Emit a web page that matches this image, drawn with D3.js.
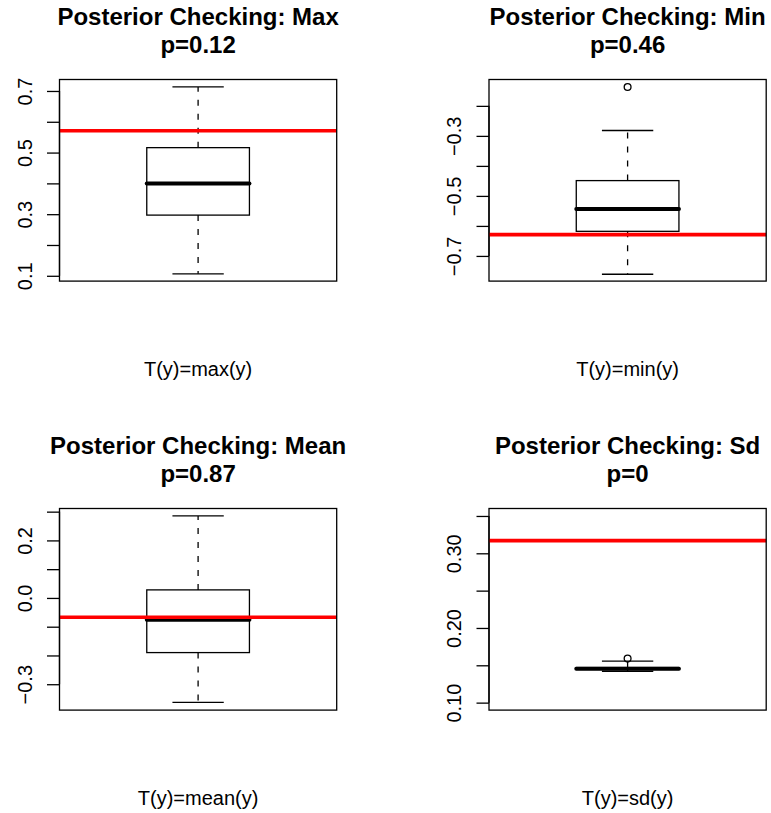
<!DOCTYPE html>
<html>
<head>
<meta charset="utf-8">
<script src="https://cdn.jsdelivr.net/npm/d3@7"></script>
<style>
  body { margin: 0; background: #fff; }
  svg { display: block; font-family: "Liberation Sans", Arial, Helvetica, sans-serif; }
</style>
</head>
<body>
<svg id="chart" width="771" height="813"></svg>
<script>
// Panel texts
const titles = ['Posterior Checking: Max', 'Posterior Checking: Min', 'Posterior Checking: Mean', 'Posterior Checking: Sd'];
const pValues = ['p=0.12', 'p=0.46', 'p=0.87', 'p=0'];
const xLabels = ['T(y)=max(y)', 'T(y)=min(y)', 'T(y)=mean(y)', 'T(y)=sd(y)'];

// Boxplot stats of the replicated statistic
const whiskerLow = [0.1065, -0.761, -0.363, 0.142];
const lowerQuartile = [0.297, -0.618, -0.19, 0.1445];
const medians = [0.400, -0.544, -0.076, 0.1455];
const upperQuartile = [0.516, -0.449, 0.028, 0.147];
const whiskerHigh = [0.713, -0.282, 0.285, 0.1555];
const outliers = [[], [-0.137], [], [0.159]];

// Observed statistic T(y), drawn as the red line
const observed = [0.571, -0.629, -0.067, 0.317];

// y limits (before R's 4% padding) and axis ticks
const yLimits = [[0.107, 0.713], [-0.759, -0.137], [-0.364, 0.285], [0.10, 0.35]];
const tickValues = [
  [0.1, 0.2, 0.3, 0.4, 0.5, 0.6, 0.7],
  [-0.7, -0.6, -0.5, -0.4, -0.3, -0.2],
  [-0.3, -0.2, -0.1, 0.0, 0.1, 0.2, 0.3],
  [0.10, 0.15, 0.20, 0.25, 0.30, 0.35]
];
const tickLabels = [
  ['0.1', '', '0.3', '', '0.5', '', '0.7'],
  ['\u22120.7', '', '\u22120.5', '', '\u22120.3', ''],
  ['\u22120.3', '', '', '0.0', '', '0.2', ''],
  ['0.10', '', '0.20', '', '0.30', '']
];

const svg = d3.select('#chart');

// layout of the 2x2 grid
const plotW = 277.2, plotH = 201.6;
const lefts = [59.5, 489, 59.5, 489];
const tops = [79.5, 79.5, 508.5, 508.5];
const lineW = 1.3;

titles.forEach((title, i) => {
  const g = svg.append('g').attr('transform', `translate(${lefts[i]},${tops[i]})`);

  const [lo, hi] = yLimits[i];
  const pad = (hi - lo) * 0.04;
  const y = d3.scaleLinear().domain([lo - pad, hi + pad]).range([plotH, 0]);
  const x = d3.scaleLinear().domain([0.46, 1.54]).range([0, plotW]); // one box at x=1

  // y axis, labels rotated like R's las=0
  const axis = d3.axisLeft(y)
    .tickValues(tickValues[i])
    .tickSize(12.5)
    .tickSizeOuter(0)
    .tickFormat((d, k) => tickLabels[i][k]);
  const ax = g.append('g').call(axis);
  ax.select('.domain').remove();
  ax.selectAll('.tick line').attr('stroke', '#000').attr('stroke-width', lineW);
  ax.selectAll('.tick text')
    .attr('x', null).attr('dy', null)
    .attr('transform', 'translate(-27.6,0) rotate(-90)')
    .attr('text-anchor', 'middle')
    .attr('fill', '#000')
    .style('font-size', '20px')
    .style('font-family', '"Liberation Sans", Arial, Helvetica, sans-serif');
  // axis line spans first to last tick
  const tv = tickValues[i];
  g.append('line')
    .attr('x1', 0).attr('x2', 0)
    .attr('y1', y(tv[0])).attr('y2', y(tv[tv.length - 1]))
    .attr('stroke', '#000').attr('stroke-width', lineW);

  // whiskers (dashed) and staples
  const xc = x(1);
  [[lowerQuartile[i], whiskerLow[i]], [upperQuartile[i], whiskerHigh[i]]].forEach(([from, to]) => {
    g.append('line')
      .attr('x1', xc).attr('x2', xc)
      .attr('y1', y(from)).attr('y2', y(to))
      .attr('stroke', '#000').attr('stroke-width', lineW)
      .attr('stroke-dasharray', '6,8');
    g.append('line')
      .attr('x1', x(0.9)).attr('x2', x(1.1))
      .attr('y1', y(to)).attr('y2', y(to))
      .attr('stroke', '#000').attr('stroke-width', lineW);
  });

  // box
  g.append('rect')
    .attr('x', x(0.8)).attr('width', x(1.2) - x(0.8))
    .attr('y', y(upperQuartile[i]))
    .attr('height', y(lowerQuartile[i]) - y(upperQuartile[i]))
    .attr('fill', 'none').attr('stroke', '#000').attr('stroke-width', lineW);

  // median
  g.append('line')
    .attr('x1', x(0.8)).attr('x2', x(1.2))
    .attr('y1', y(medians[i])).attr('y2', y(medians[i]))
    .attr('stroke', '#000').attr('stroke-width', 4)
    .attr('stroke-linecap', 'round');

  // outliers
  g.selectAll('circle.out').data(outliers[i]).enter()
    .append('circle')
    .attr('class', 'out')
    .attr('cx', xc).attr('cy', (d) => y(d)).attr('r', 3.4)
    .attr('fill', 'none').attr('stroke', '#000').attr('stroke-width', lineW);

  // observed value
  g.append('line')
    .attr('x1', 0).attr('x2', plotW)
    .attr('y1', y(observed[i])).attr('y2', y(observed[i]))
    .attr('stroke', '#ff0000').attr('stroke-width', 3.6);

  // plot frame
  g.append('rect')
    .attr('width', plotW).attr('height', plotH)
    .attr('fill', 'none').attr('stroke', '#000').attr('stroke-width', lineW);

  // two-line title
  g.append('text')
    .attr('x', plotW / 2).attr('y', -55)
    .attr('text-anchor', 'middle')
    .style('font-size', '24px').style('font-weight', 'bold')
    .text(title);
  g.append('text')
    .attr('x', plotW / 2).attr('y', -26.5)
    .attr('text-anchor', 'middle')
    .style('font-size', '24px').style('font-weight', 'bold')
    .text(pValues[i]);

  // x label
  g.append('text')
    .attr('x', plotW / 2).attr('y', plotH + 94.5)
    .attr('text-anchor', 'middle')
    .style('font-size', '20px')
    .text(xLabels[i]);
});
</script>
</body>
</html>
